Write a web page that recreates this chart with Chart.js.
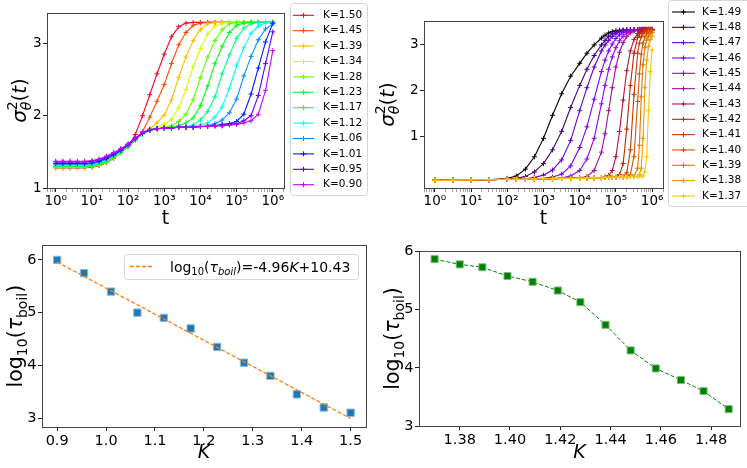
<!DOCTYPE html>
<html>
<head>
<meta charset="utf-8">
<title>sigma2(t) and boiling time</title>
<script src="https://cdn.jsdelivr.net/npm/chart.js@4.4.1/dist/chart.umd.min.js"></script>
<style>
  body { margin: 0; background: #fff; }
  #page { position: relative; width: 747px; height: 468px; overflow: hidden; }
  #page canvas { position: absolute; }
</style>
</head>
<body>
<div id="page">
  <canvas id="sigLeftChart" width="372" height="235" style="left:0;top:0"></canvas>
  <canvas id="sigRightChart" width="375" height="235" style="left:372px;top:0"></canvas>
  <canvas id="tauLeftChart" width="372" height="233" style="left:0;top:235px"></canvas>
  <canvas id="tauRightChart" width="375" height="233" style="left:372px;top:235px"></canvas>
</div>
<script>
// ---- data: top left, K = 1.50 ... 0.90
const kLeft = ['1.50', '1.45', '1.39', '1.34', '1.28', '1.23', '1.17', '1.12', '1.06', '1.01', '0.95', '0.90'];
const colorsLeft = ['#ff0029', '#ff4900', '#ffbc00', '#cfff00', '#5cff00', '#00ff17', '#00ff89', '#00fffb', '#008fff', '#001cff', '#5700ff', '#cc00ff'];
const tLeft = [1, 1.585, 2.512, 3.981, 6.31, 10, 15.85, 25.12, 39.81, 63.1, 100, 158.5, 251.2, 398.1, 631, 1000,
  1585, 2512, 3981, 6310, 1e4, 15849, 25119, 39811, 63096, 1e5, 158489, 251189, 398107, 630957, 1e6];
const sigLeft = [
  [1.28,1.28,1.28,1.28,1.28,1.29,1.31,1.35,1.41,1.49,1.57,1.74,2.00,2.29,2.58,2.85,3.09,3.23,3.28,3.29,3.29,3.29,3.29,3.29,3.29,3.29,3.29,3.29,3.29,3.29,3.29],
  [1.28,1.28,1.28,1.28,1.28,1.29,1.31,1.35,1.41,1.49,1.57,1.66,1.78,1.98,2.20,2.43,2.72,2.98,3.15,3.25,3.28,3.29,3.29,3.29,3.29,3.29,3.29,3.29,3.29,3.29,3.29],
  [1.29,1.29,1.29,1.29,1.29,1.30,1.32,1.36,1.42,1.49,1.58,1.67,1.75,1.82,1.90,2.01,2.22,2.53,2.81,3.04,3.19,3.27,3.29,3.29,3.29,3.29,3.29,3.29,3.29,3.29,3.29],
  [1.29,1.29,1.29,1.29,1.29,1.30,1.32,1.36,1.42,1.49,1.58,1.67,1.75,1.80,1.84,1.88,1.95,2.11,2.36,2.68,2.93,3.13,3.24,3.28,3.29,3.29,3.29,3.29,3.29,3.29,3.29],
  [1.29,1.29,1.29,1.29,1.29,1.30,1.32,1.36,1.42,1.49,1.58,1.67,1.75,1.80,1.82,1.84,1.86,1.92,2.02,2.22,2.53,2.81,3.04,3.19,3.27,3.29,3.29,3.29,3.29,3.29,3.29],
  [1.30,1.30,1.30,1.30,1.30,1.31,1.33,1.37,1.43,1.50,1.58,1.67,1.75,1.80,1.82,1.83,1.84,1.86,1.90,1.97,2.14,2.41,2.72,2.96,3.15,3.25,3.28,3.29,3.29,3.29,3.29],
  [1.31,1.31,1.31,1.31,1.31,1.32,1.34,1.38,1.44,1.51,1.58,1.67,1.75,1.80,1.82,1.83,1.83,1.84,1.85,1.87,1.94,2.06,2.26,2.58,2.84,3.07,3.21,3.27,3.29,3.29,3.29],
  [1.32,1.32,1.32,1.32,1.32,1.33,1.35,1.39,1.45,1.51,1.59,1.68,1.75,1.80,1.82,1.83,1.83,1.84,1.84,1.85,1.87,1.90,1.98,2.12,2.38,2.69,2.94,3.14,3.24,3.28,3.29],
  [1.33,1.33,1.33,1.33,1.33,1.34,1.36,1.40,1.45,1.52,1.59,1.68,1.76,1.80,1.82,1.83,1.83,1.84,1.84,1.84,1.85,1.86,1.89,1.94,2.04,2.23,2.55,2.82,3.05,3.20,3.27],
  [1.34,1.34,1.34,1.34,1.34,1.35,1.37,1.41,1.46,1.52,1.60,1.68,1.76,1.80,1.82,1.83,1.83,1.84,1.84,1.84,1.85,1.85,1.86,1.88,1.89,1.92,2.02,2.30,2.66,3.02,3.28],
  [1.36,1.36,1.36,1.36,1.36,1.37,1.39,1.43,1.48,1.54,1.60,1.69,1.76,1.81,1.82,1.83,1.83,1.84,1.84,1.84,1.85,1.85,1.86,1.86,1.88,1.89,1.93,2.00,2.28,2.72,3.16],
  [1.37,1.37,1.37,1.37,1.37,1.38,1.40,1.44,1.49,1.54,1.61,1.69,1.77,1.81,1.82,1.83,1.83,1.84,1.84,1.84,1.85,1.85,1.86,1.86,1.87,1.88,1.90,1.93,2.02,2.35,2.90]
];

// ---- data: top right, K = 1.49 ... 1.37
const kRight = ['1.49', '1.48', '1.47', '1.46', '1.45', '1.44', '1.43', '1.42', '1.41', '1.40', '1.39', '1.38', '1.37'];
const colorsRight = ['#000000', '#470077', '#6401d2', '#7a03fd', '#8d07ee', '#9e0fa9', '#ad193d', '#bb2800', '#c83b00', '#d45500', '#e07400', '#eb9b00', '#f5c900'];
const tRight = [1, 3.162, 10, 31.62, 100, 177.8, 316.2, 562.3, 1000, 1778, 3162, 5623, 1e4, 15849, 25119, 39811, 50119,
  63096, 79433, 1e5, 125893, 158489, 199526, 251189, 316228, 398107, 446684, 501187, 562341, 630957, 707946, 794328, 891251, 1e6];
const sigRight = [
  [0.04,0.04,0.05,0.05,0.08,0.13,0.28,0.55,0.95,1.45,1.92,2.30,2.58,2.80,2.98,3.13,3.19,3.24,3.27,3.29,3.30,3.30,3.31,3.31,3.31,3.31,3.31,3.31,3.31,3.31,3.31,3.31,3.31,3.31],
  [0.04,0.04,0.05,0.05,0.06,0.08,0.12,0.22,0.40,0.70,1.10,1.62,2.10,2.45,2.75,2.98,3.08,3.16,3.22,3.26,3.28,3.30,3.31,3.31,3.31,3.31,3.31,3.31,3.31,3.31,3.31,3.31,3.31,3.31],
  [0.04,0.04,0.05,0.05,0.06,0.06,0.07,0.10,0.15,0.26,0.48,0.90,1.55,2.05,2.50,2.85,2.98,3.08,3.16,3.22,3.26,3.29,3.31,3.31,3.31,3.31,3.31,3.31,3.31,3.31,3.31,3.31,3.31,3.31],
  [0.04,0.04,0.05,0.05,0.06,0.06,0.06,0.07,0.08,0.11,0.17,0.35,0.75,1.20,1.80,2.40,2.65,2.85,3.00,3.12,3.20,3.25,3.28,3.30,3.31,3.31,3.31,3.31,3.31,3.31,3.31,3.31,3.31,3.31],
  [0.04,0.04,0.05,0.05,0.06,0.06,0.06,0.07,0.07,0.07,0.09,0.13,0.25,0.50,0.95,1.70,2.10,2.45,2.72,2.92,3.07,3.17,3.24,3.28,3.30,3.31,3.32,3.32,3.32,3.32,3.32,3.32,3.32,3.32],
  [0.04,0.04,0.05,0.05,0.06,0.06,0.06,0.07,0.07,0.07,0.08,0.08,0.09,0.12,0.25,0.65,1.05,1.55,2.05,2.50,2.82,3.03,3.16,3.24,3.28,3.30,3.31,3.32,3.32,3.32,3.32,3.32,3.32,3.32],
  [0.04,0.04,0.05,0.05,0.06,0.06,0.06,0.07,0.07,0.07,0.08,0.08,0.08,0.09,0.09,0.09,0.11,0.14,0.25,0.55,1.10,1.78,2.42,2.85,3.10,3.23,3.27,3.29,3.31,3.31,3.31,3.31,3.31,3.31],
  [0.04,0.04,0.05,0.05,0.06,0.06,0.06,0.07,0.07,0.07,0.08,0.08,0.08,0.09,0.09,0.09,0.10,0.10,0.10,0.11,0.16,0.40,1.15,2.10,2.80,3.14,3.22,3.27,3.29,3.31,3.31,3.31,3.31,3.31],
  [0.04,0.04,0.05,0.05,0.06,0.06,0.06,0.07,0.07,0.07,0.08,0.08,0.08,0.09,0.09,0.09,0.10,0.10,0.10,0.10,0.11,0.12,0.20,0.70,1.90,2.80,3.02,3.16,3.23,3.27,3.29,3.30,3.30,3.30],
  [0.04,0.04,0.05,0.05,0.06,0.06,0.06,0.07,0.07,0.07,0.08,0.08,0.08,0.09,0.09,0.09,0.10,0.10,0.10,0.10,0.11,0.11,0.12,0.16,0.55,1.75,2.35,2.78,3.02,3.15,3.22,3.26,3.28,3.29],
  [0.04,0.04,0.05,0.05,0.06,0.06,0.06,0.07,0.07,0.07,0.08,0.08,0.08,0.09,0.09,0.09,0.10,0.10,0.10,0.10,0.11,0.11,0.11,0.12,0.13,0.30,0.80,1.85,2.55,2.92,3.08,3.17,3.22,3.25],
  [0.04,0.04,0.05,0.05,0.06,0.06,0.06,0.07,0.07,0.07,0.08,0.08,0.08,0.09,0.09,0.09,0.10,0.10,0.10,0.10,0.11,0.11,0.11,0.12,0.12,0.12,0.16,0.30,0.95,2.05,2.65,2.95,3.10,3.17],
  [0.04,0.04,0.05,0.05,0.06,0.06,0.06,0.07,0.07,0.07,0.08,0.08,0.08,0.09,0.09,0.09,0.10,0.10,0.10,0.10,0.11,0.11,0.11,0.12,0.12,0.12,0.13,0.13,0.13,0.22,0.55,1.55,2.40,2.87]
];

// ---- data: bottom left, boiling time vs K with linear fit
const kFit = [0.9, 0.955, 1.01, 1.064, 1.118, 1.173, 1.227, 1.282, 1.336, 1.39, 1.445, 1.5];
const logTauFit = [6.0, 5.75, 5.4, 5.0, 4.9, 4.7, 4.35, 4.05, 3.8, 3.45, 3.2, 3.1];
const fitLineK = [0.9, 1.5];
const fitLineY = [5.96, 2.99];

// ---- data: bottom right, boiling time near the top of the range
const kNear = [1.370, 1.380, 1.389, 1.399, 1.409, 1.419, 1.428, 1.438, 1.448, 1.458, 1.468, 1.477, 1.487];
const logTauNear = [5.87, 5.78, 5.73, 5.58, 5.48, 5.33, 5.13, 4.74, 4.30, 3.99, 3.79, 3.60, 3.29];

// ---- tick labels
const tDecades = [0, 1, 2, 3, 4, 5, 6];
const tTickLabels = ['10⁰', '10¹', '10²', '10³', '10⁴', '10⁵', '10⁶'];
const sigTicksLeft = [1, 2, 3];
const sigTicksRight = [1, 2, 3];
const kTicksFit = [0.9, 1.0, 1.1, 1.2, 1.3, 1.4, 1.5];
const kTicksNear = [1.38, 1.40, 1.42, 1.44, 1.46, 1.48];
const tauTicks = [3, 4, 5, 6];

const fam = '"DejaVu Sans", sans-serif';
Chart.defaults.font.family = fam;
Chart.defaults.font.size = 13.5;
Chart.defaults.color = '#000';
Chart.defaults.animation = false;
Chart.defaults.events = [];
Chart.defaults.plugins.legend.display = false;
Chart.defaults.plugins.tooltip.enabled = false;

// mixed-size text (sub/superscripts) drawn on the canvas
function partFont(p) { return (p.i ? 'italic ' : '') + p.s + 'px ' + fam; }
function richWidth(ctx, parts) {
  let w = 0;
  for (const p of parts) { ctx.font = partFont(p); if (!p.hold) w += ctx.measureText(p.t).width; }
  return w;
}
function drawRich(ctx, parts, x, y, rotate, center) {
  ctx.save();
  ctx.translate(x, y);
  if (rotate) ctx.rotate(-Math.PI / 2);
  ctx.fillStyle = '#000';
  ctx.textBaseline = 'alphabetic';
  ctx.textAlign = 'left';
  let cx = center ? -richWidth(ctx, parts) / 2 : 0;
  for (const p of parts) {
    ctx.font = partFont(p);
    ctx.fillText(p.t, cx, p.dy || 0);
    if (!p.hold) cx += ctx.measureText(p.t).width;
  }
  ctx.restore();
}

const sigmaTitle = [{t: 'σ', s: 20, i: 1}, {t: '2', s: 14, dy: -9, hold: 1}, {t: 'θ', s: 14, i: 1, dy: 5},
  {t: '(', s: 20}, {t: 't', s: 20, i: 1}, {t: ')', s: 20}];
const tauTitle = [{t: 'log', s: 20.5}, {t: '10', s: 14, dy: 5}, {t: '(', s: 20.5}, {t: 'τ', s: 20.5, i: 1},
  {t: 'boil', s: 14, dy: 5}, {t: ')', s: 20.5}];
const fitLabel = [{t: 'log', s: 14}, {t: '10', s: 10, dy: 3}, {t: '(', s: 14}, {t: 'τ', s: 14, i: 1},
  {t: 'boil', s: 10, i: 1, dy: 3}, {t: ')=-4.96', s: 14}, {t: 'K', s: 14, i: 1}, {t: '+10.43', s: 14}];

// box round the plot area (matplotlib spines)
const framePlugin = {
  id: 'frame',
  afterDatasetsDraw(chart) {
    const a = chart.chartArea, ctx = chart.ctx;
    ctx.save();
    ctx.strokeStyle = '#444';
    ctx.lineWidth = 1;
    ctx.strokeRect(Math.round(a.left) + 0.5, Math.round(a.top) + 0.5, Math.round(a.right - a.left), Math.round(a.bottom - a.top));
    ctx.restore();
  }
};

const yTitlePlugin = {
  id: 'yTitle',
  afterDraw(chart, args, o) {
    if (!o.parts) return;
    const a = chart.chartArea;
    drawRich(chart.ctx, o.parts, o.x, (a.top + a.bottom) / 2, true, true);
  }
};

// legend with a light rounded frame, line sample and '+' marker
const boxLegendPlugin = {
  id: 'boxLegend',
  afterDraw(chart, args, o) {
    if (!o.w) return;
    const ctx = chart.ctx;
    ctx.save();
    ctx.beginPath();
    if (ctx.roundRect) ctx.roundRect(o.x + 0.5, o.y + 0.5, o.w, o.h, 3);
    else ctx.rect(o.x + 0.5, o.y + 0.5, o.w, o.h);
    ctx.fillStyle = 'rgba(255,255,255,0.85)';
    ctx.fill();
    ctx.strokeStyle = '#d6d6d6';
    ctx.lineWidth = 1;
    ctx.stroke();
    let row = 0;
    chart.data.datasets.forEach(ds => {
      if (ds.inLegend === false) return;
      const y = o.y0 + row * o.rowH;
      row++;
      ctx.strokeStyle = ds.borderColor;
      ctx.lineWidth = ds.borderWidth;
      ctx.setLineDash(ds.borderDash || []);
      ctx.beginPath();
      ctx.moveTo(o.lineX, y);
      ctx.lineTo(o.lineX + o.lineW, y);
      ctx.stroke();
      ctx.setLineDash([]);
      if (ds.pointStyle === 'cross') {
        const m = o.lineX + o.lineW / 2, r = ds.pointRadius;
        ctx.lineWidth = 1;
        ctx.beginPath();
        ctx.moveTo(m - r, y); ctx.lineTo(m + r, y);
        ctx.moveTo(m, y - r); ctx.lineTo(m, y + r);
        ctx.stroke();
      }
      if (ds.legendParts) {
        drawRich(ctx, ds.legendParts, o.textX, y + 5, false, false);
      } else {
        ctx.fillStyle = '#000';
        ctx.font = o.fontSize + 'px ' + fam;
        ctx.textBaseline = 'middle';
        ctx.textAlign = 'left';
        ctx.fillText(ds.label, o.textX, y);
      }
    });
    ctx.restore();
  }
};

Chart.register(framePlugin, yTitlePlugin, boxLegendPlugin);

function isPow10(v) {
  const e = Math.log10(v);
  return Math.abs(e - Math.round(e)) < 1e-9;
}

function logAxis(min, max, height) {
  return {
    type: 'logarithmic', min: min, max: max,
    afterBuildTicks: s => {
      const out = [];
      for (let e = -1; e <= 6; e++) {
        for (let m = 1; m <= 9; m++) {
          const v = m * Math.pow(10, e);
          if (v >= min && v <= max) out.push({value: v});
        }
      }
      s.ticks = out;
    },
    afterFit: s => { s.height = height; },
    ticks: {
      autoSkip: false, maxRotation: 0, padding: 1,
      callback: v => {
        if (!isPow10(v)) return '';
        const i = tDecades.indexOf(Math.round(Math.log10(v)));
        return i < 0 ? '' : tTickLabels[i];
      }
    },
    grid: {
      drawOnChartArea: false, tickLength: 4,
      tickColor: c => isPow10(c.tick.value) ? '#222' : '#666',
      tickWidth: c => isPow10(c.tick.value) ? 1 : 0.6
    },
    border: {display: false},
    title: {display: true, text: 't', font: {size: 19}, padding: {top: 0, bottom: 5}}
  };
}

function linAxis(min, max, ticks, digits, size, fontSize, title) {
  const ax = {
    type: 'linear', min: min, max: max,
    afterBuildTicks: s => { s.ticks = ticks.map(v => ({value: v})); },
    afterFit: s => { if (s.isHorizontal()) s.height = size; else s.width = size; },
    ticks: {autoSkip: false, maxRotation: 0, padding: 1.5, font: {size: fontSize}, callback: v => v.toFixed(digits)},
    grid: {drawOnChartArea: false, tickLength: 4, tickColor: '#222', tickWidth: 1},
    border: {display: false}
  };
  if (title) ax.title = {display: true, text: title, font: {size: 19, style: 'italic'}, padding: {top: 0, bottom: 4}};
  return ax;
}

function curve(label, color, ts, ys, order) {
  return {
    label: 'K=' + label,
    data: ts.map((t, j) => ({x: t, y: ys[j]})),
    borderColor: color, backgroundColor: color,
    borderWidth: 1.1, pointStyle: 'cross', pointRadius: 2.5, pointBorderWidth: 1,
    pointHoverRadius: 0, order: order
  };
}

// top left
new Chart(document.getElementById('sigLeftChart'), {
  type: 'line',
  data: {datasets: kLeft.map((k, i) => curve(k, colorsLeft[i], tLeft, sigLeft[i], kLeft.length - i))},
  options: {
    responsive: false,
    layout: {padding: {top: 13, right: 88, bottom: 0, left: 0}},
    scales: {
      x: logAxis(0.575, 2.04e6, 47),
      y: linAxis(1.0, 3.42, sigTicksLeft, 0, 47, 13.5)
    },
    plugins: {
      yTitle: {x: 26, parts: sigmaTitle},
      boxLegend: {x: 290, y: 3, w: 77, h: 192, y0: 15.3, rowH: 15.4, lineX: 293, lineW: 21, textX: 323, fontSize: 10.5}
    }
  }
});

// top right
new Chart(document.getElementById('sigRightChart'), {
  type: 'line',
  data: {datasets: kRight.map((k, i) => curve(k, colorsRight[i], tRight, sigRight[i], kRight.length - i))},
  options: {
    responsive: false,
    layout: {padding: {top: 21, right: 84, bottom: 0, left: 0}},
    scales: {
      x: logAxis(0.5, 2.0e6, 47),
      y: linAxis(-0.13, 3.5, sigTicksRight, 0, 52, 13.5)
    },
    plugins: {
      yTitle: {x: 22, parts: sigmaTitle},
      boxLegend: {x: 296, y: 0, w: 90, h: 206, y0: 12, rowH: 15.33, lineX: 300, lineW: 23, textX: 330, fontSize: 10.5}
    }
  }
});

// bottom left
new Chart(document.getElementById('tauLeftChart'), {
  type: 'line',
  data: {
    datasets: [
      {
        label: 'log10(tau_boil)', inLegend: false,
        data: kFit.map((k, i) => ({x: k, y: logTauFit[i]})),
        showLine: false, pointStyle: 'rect', pointRadius: 5.2,
        backgroundColor: '#1f77b4', borderColor: '#8dbbdb', pointBorderWidth: 1, order: 2
      },
      {
        label: 'fit', legendParts: fitLabel,
        data: fitLineK.map((k, i) => ({x: k, y: fitLineY[i]})),
        borderColor: '#ff7f0e', borderWidth: 1.3, borderDash: [4, 2], pointRadius: 0, order: 1
      }
    ]
  },
  options: {
    responsive: false,
    layout: {padding: {top: 5, right: 5, bottom: 0, left: 0}},
    scales: {
      x: linAxis(0.869, 1.531, kTicksFit, 1, 41, 14.5, 'K'),
      y: linAxis(2.83, 6.28, tauTicks, 0, 42, 14.5)
    },
    plugins: {
      yTitle: {x: 22, parts: tauTitle},
      boxLegend: {x: 124, y: 19, w: 234, h: 25, y0: 31.5, rowH: 16, lineX: 130, lineW: 22, textX: 170, fontSize: 14}
    }
  }
});

// bottom right
new Chart(document.getElementById('tauRightChart'), {
  type: 'line',
  data: {
    datasets: [{
      label: 'log10(tau_boil)',
      data: kNear.map((k, i) => ({x: k, y: logTauNear[i]})),
      borderColor: '#008000', borderWidth: 1, borderDash: [4, 2],
      pointStyle: 'rect', pointRadius: 5, backgroundColor: '#008000',
      pointBorderColor: '#7fbf7f', pointBorderWidth: 1
    }]
  },
  options: {
    responsive: false,
    layout: {padding: {top: 16, right: 7, bottom: 0, left: 0}},
    scales: {
      x: linAxis(1.3638, 1.4915, kTicksNear, 2, 42, 14.5, 'K'),
      y: linAxis(3.0, 6.01, tauTicks, 0, 47, 14.5)
    },
    plugins: {
      yTitle: {x: 27, parts: tauTitle}
    }
  }
});
</script>
</body>
</html>
